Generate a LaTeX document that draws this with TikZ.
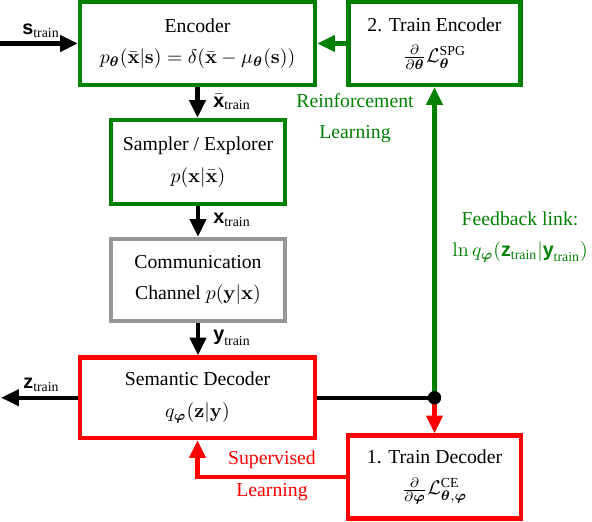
\documentclass[tikz,border=0pt]{standalone}
\usepackage{amsmath,bm}
\usepackage[no-math]{fontspec}
\setmainfont{Liberation Serif}
\setsansfont{Liberation Sans}
\usetikzlibrary{arrows.meta}
\definecolor{dgreen}{rgb}{0,0.5,0}
\definecolor{cgray}{RGB}{150,150,150}
\newcommand{\bsf}[1]{\textsf{\bfseries #1}}
\newcommand{\trn}{_{\text{train}}}
\def\u{0.5068pt}
\begin{document}
\begin{tikzpicture}[x=0.5068pt,y={(0pt,-0.5068pt)},
  box/.style={draw, line width=2.2pt, fill=white, align=center, inner sep=0pt,
    font=\fontsize{10}{16}\selectfont},
  arr/.style={line width=2.2pt, -{Triangle[length=9pt,width=8pt]}},
  lab/.style={inner sep=0pt, anchor=west},
  txt/.style={inner sep=0pt, align=center, font=\fontsize{10}{16}\selectfont}]
\useasboundingbox (0,0) rectangle (592,522);

\node[box, draw=dgreen, minimum width=235*\u, minimum height=83*\u] (enc) at (197.5,43.5)
  {Encoder\\ $p_{\bm\theta}(\bar{\mathbf x}|\mathbf s) = \delta(\bar{\mathbf x}-\mu_{\bm\theta}(\mathbf s))$};
\node[box, draw=dgreen, minimum width=172*\u, minimum height=83*\u] (tenc) at (434.5,43.5)
  {2. Train Encoder\\ $\frac{\partial}{\partial\bm\theta}\mathcal L^{\text{SPG}}_{\bm\theta}$};
\node[box, draw=dgreen, minimum width=174*\u, minimum height=84*\u] (sam) at (198,162)
  {Sampler / Explorer\\ $p(\mathbf x|\bar{\mathbf x})$};
\node[box, draw=cgray, minimum width=174*\u, minimum height=82*\u] (comm) at (198,280)
  {Communication\\ Channel $p(\mathbf y|\mathbf x)$};
\node[box, draw=red, minimum width=235*\u, minimum height=80.5*\u] (sem) at (197.5,397.75)
  {Semantic Decoder\\ $q_{\bm\varphi}(\mathbf z|\mathbf y)$};
\node[box, draw=red, minimum width=172.5*\u, minimum height=83*\u] (tdec) at (434.5,477)
  {1. Train Decoder\\ $\frac{\partial}{\partial\bm\varphi}\mathcal L^{\text{CE}}_{\bm\theta,\bm\varphi}$};

\coordinate (sin) at (0,43.5);
\coordinate (zout) at (1,397.75);
\coordinate (dot) at (434.5,397.75);

\draw[arr] (sin) -- (sin -| enc.west);
\draw[arr] (enc.south) -- (enc.south |- sam.north);
\draw[arr] (sam.south) -- (comm.north);
\draw[arr] (comm.south) -- (comm.south |- sem.north);
\draw[arr] (sem.west) -- (zout);
\draw[line width=2.2pt] (sem.east) -- (dot);
\draw[arr, dgreen] (dot) -- (tenc.south);
\draw[arr, dgreen] (tenc.west) -- (enc.east);
\draw[arr, red] (dot) -- (tdec.north);
\draw[arr, red] (tdec.west) -| (sem.south);
\fill (dot) circle[radius=3.4pt];

\node[lab] (ls) at (22,31) {$\bsf{s}\trn$};
\node[lab] (lz) at (23,385) {$\bsf{z}\trn$};
\node[lab] (lxb) at (213,102) {$\bar{\bsf{x}}\trn$};
\node[lab] (lx) at (213,220) {$\bsf{x}\trn$};
\node[lab] (ly) at (213,338) {$\bsf{y}\trn$};

\node[txt, text=dgreen] (rl) at (355,118) {Reinforcement\\ Learning};
\node[txt, text=red] (sl) at (272,476) {Supervised\\ Learning};
\node[txt, text=dgreen] (fb) at (520,237) {Feedback link:\\ $\ln q_{\bm\varphi}(\bsf{z}\trn|\bsf{y}\trn)$};
\end{tikzpicture}
\end{document}
